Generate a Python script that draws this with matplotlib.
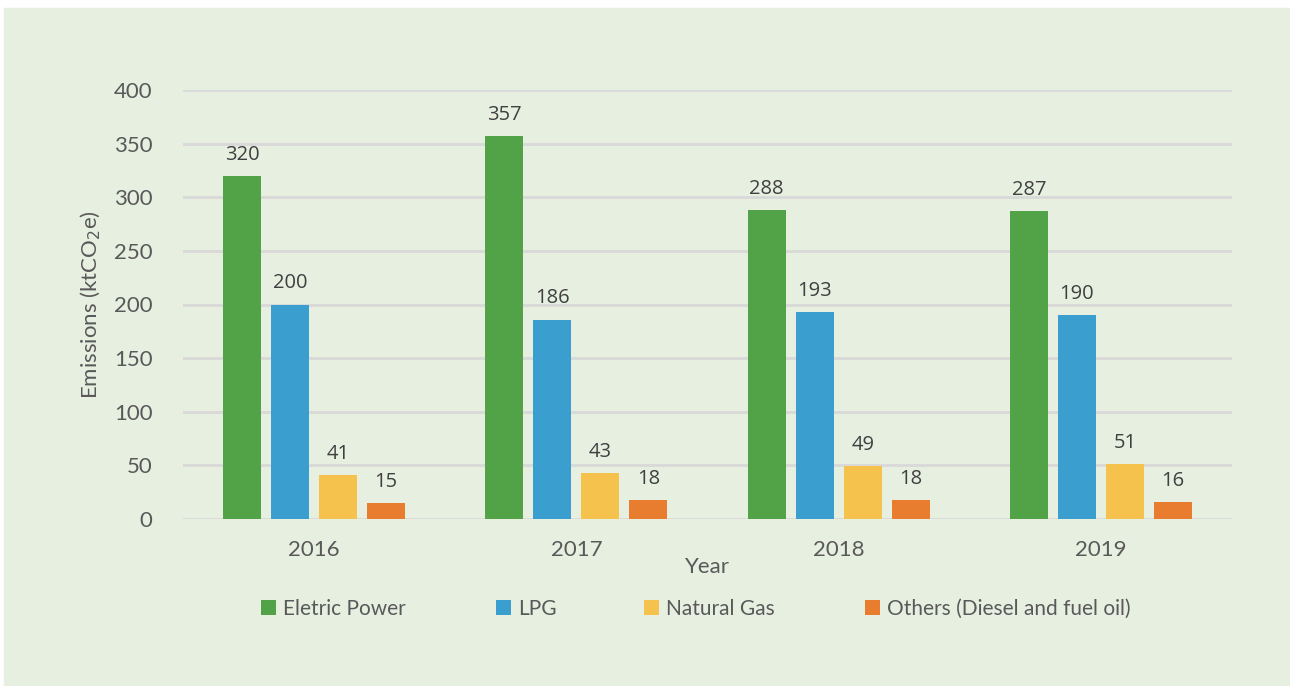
import matplotlib.pyplot as plt
from matplotlib.patches import Rectangle
import numpy as np

# data
years = ['2016', '2017', '2018', '2019']
series_names = ['Eletric Power', 'LPG', 'Natural Gas', 'Others (Diesel and fuel oil)']
eletric = [320, 357, 288, 287]
lpg = [200, 186, 193, 190]
natural_gas = [41, 43, 49, 51]
others = [15, 18, 18, 16]

colors = ['#52A347', '#3A9ECF', '#F5C24E', '#E87D2F']
bg = '#E7EFE1'
txt = '#595959'

plt.rcParams['font.family'] = ['Lato', 'DejaVu Sans']

fig = plt.figure(figsize=(12.9, 6.86), dpi=100, facecolor='white')
# light green panel, white margin on left/top
fig.patches.append(Rectangle((4 / 1290, 0), 1, (686 - 8) / 686,
                             transform=fig.transFigure, color=bg, zorder=-1))

ax = fig.add_axes([183 / 1290, 1 - 519 / 686, (1232 - 183) / 1290, (519 - 90) / 686])
ax.set_facecolor(bg)
ax.patch.set_alpha(0)

x = np.arange(len(years))
step = 48 / 262
width = 38 / 262
bars = []
for i, vals in enumerate([eletric, lpg, natural_gas, others]):
    b = ax.bar(x + (i - 1.5) * step, vals, width, color=colors[i], zorder=3)
    bars.append(b)
    for rect, v in zip(b, vals):
        ax.annotate(str(v), (rect.get_x() + rect.get_width() / 2, v),
                    xytext=(0, 8), textcoords='offset points',
                    ha='center', va='bottom', fontsize=14.5, color='#404040',
                    family=['Open Sans', 'DejaVu Sans'])

ax.set_xlim(-0.5, 3.5)
ax.set_ylim(0, 400)
ax.set_yticks(range(0, 401, 50))
ax.set_xticks(x)
ax.set_xticklabels(years)
ax.grid(axis='y', color='#D9D9D9', linewidth=2, zorder=0)
ax.tick_params(length=0, labelsize=16, colors=txt)
ax.tick_params(axis='x', pad=15)
ax.tick_params(axis='y', pad=22)
for s in ax.spines.values():
    s.set_visible(False)

ax.set_xlabel('Year', fontsize=16, color=txt, labelpad=-2)
ax.set_ylabel('Emissions (ktCO$_2$e)', fontsize=16, color=txt, labelpad=8)

# legend entries placed like the original (uneven spacing)
leg_x = [261, 496, 644, 865]
for i in range(4):
    lg = fig.legend(handles=[bars[i]], labels=[series_names[i]],
                    loc='center left', bbox_to_anchor=(leg_x[i] / 1290, 1 - 609 / 686),
                    frameon=False, fontsize=15, handlelength=0.7, handleheight=0.7,
                    handletextpad=0.35, borderpad=0, borderaxespad=0)
    for t in lg.get_texts():
        t.set_color(txt)

fig.savefig('out.png', dpi=100, facecolor='white')
